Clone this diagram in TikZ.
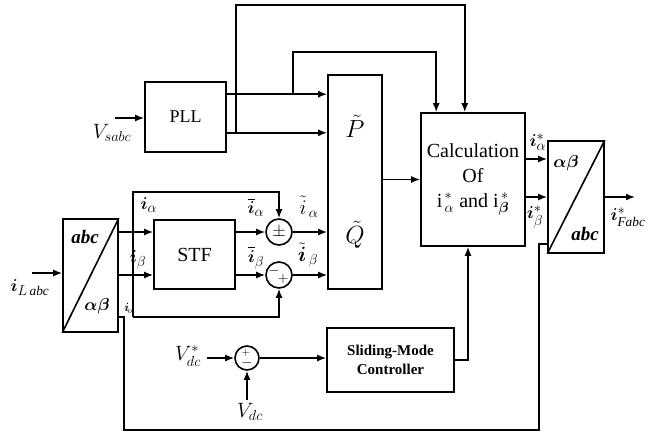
\documentclass[tikz,border=0pt]{standalone}
\usepackage{amsmath, amssymb}
\usepackage{bm}
\usepackage{fontspec}
\setmainfont{Liberation Serif}
\usepackage{tikz}
\usetikzlibrary{positioning, arrows.meta, calc}

\begin{document}
\begin{tikzpicture}[x=1pt, y=-1pt, line width=1.6pt,
    blockbox/.style={draw, line width=1.6pt, inner sep=0pt},
    sumnode/.style={draw, circle, minimum size=26pt, inner sep=0pt},
    sgn/.style={inner sep=0pt, font=\fontsize{14}{14}\selectfont},
    sig/.style={-{Latex[length=9pt,width=7pt]}},
    lbl/.style={inner sep=0pt, font=\fontsize{19}{19}\selectfont}]

    \useasboundingbox (0,0) rectangle (663,435);

    % Blocks
    \node[blockbox, minimum width=55pt, minimum height=113pt] (tra) at (90.5,275.5) {};
    \draw (tra.south west) -- (tra.north east);
    \node[blockbox, minimum width=81pt, minimum height=69pt, font=\fontsize{20}{20}\selectfont] (stf) at (194.5,254.5) {STF};
    \node[blockbox, minimum width=81pt, minimum height=70pt, font=\fontsize{18}{18}\selectfont] (pll) at (185.5,117) {PLL};
    \node[blockbox, minimum width=54pt, minimum height=214pt, align=center,
          font=\fontsize{25}{106}\selectfont] (pq) at (355,182) {$\tilde{P}$\\$\tilde{Q}$};
    \node[blockbox, minimum width=104pt, minimum height=133pt, align=center,
          font=\fontsize{20}{25}\selectfont] (calc) at (473,179.5)
          {Calculation\\Of\\i$^{\,*}_{\,\alpha}$ and i$^{\,*}_{\bm{\beta}}$};
    \node[blockbox, minimum width=56pt, minimum height=112pt] (trb) at (576,197) {};
    \draw (trb.south west) -- (trb.north east);
    \node[blockbox, minimum width=127pt, minimum height=64pt, align=center,
          font=\fontsize{15}{19}\selectfont\bfseries] (smc) at (390.5,360) {Sliding-Mode\\Controller};

    % Summing junctions
    \node[sumnode] (s1) at (279,232) {};
    \node[sgn, font=\fontsize{17}{17}\selectfont] (s1p) at (s1.center) {$\pm$};
    \node[sumnode] (s2) at (279,275) {};
    \node[sgn] (s2m) at ([shift={(-5,-4)}]s2.center) {$-$};
    \node[sgn] (s2p) at ([shift={(4,4)}]s2.center) {$+$};
    \node[sumnode, minimum size=24pt] (s3) at (247,358) {};
    \node[sgn, font=\fontsize{11}{11}\selectfont] (s3p) at ([shift={(-1,-5)}]s3.center) {$+$};
    \node[sgn] (s3m) at ([shift={(0,5)}]s3.center) {$-$};

    % Texts in blocks
    \node[lbl, font=\fontsize{19}{19}\selectfont\bfseries\itshape] (abca) at (85,237) {abc};
    \node[lbl] (aba) at (97,306) {$\bm{\alpha\beta}$};
    \node[lbl] (abb) at (566,163) {$\bm{\alpha\beta}$};
    \node[lbl, font=\fontsize{19}{19}\selectfont\bfseries\itshape] (abcb) at (585,234) {abc};

    % Coordinates
    \coordinate (iin) at (32,273);
    \coordinate (ttop) at (133,192);
    \coordinate (tbot) at (133,317);
    \coordinate (fb) at (124,430);
    \coordinate (fbr) at (539,430);
    \coordinate (vin) at (115,118);
    \coordinate (p1) at ([yshift=-13pt]pll.north east);
    \coordinate (p2) at ([yshift=20pt]pll.south east);
    \coordinate (b1) at ([xshift=66pt]p1);
    \coordinate (b2) at ([xshift=9pt]p2);
    \coordinate (c1) at ([xshift=16pt]calc.north west);
    \coordinate (c2) at ([xshift=-61pt]calc.north east);
    \coordinate (ya) at (0,159);
    \coordinate (yb) at (0,197);
    \coordinate (iout) at (635,197);
    \coordinate (vref) at (207,358);
    \coordinate (vdc) at (247,400);

    % Connectors
    \draw[sig] (iin) -- (iin -| tra.west);
    \draw[sig] (tra.east |- s1) -- (stf.west |- s1);
    \draw[sig] (tra.east |- s2) -- (stf.west |- s2);
    \draw[sig] (stf.east |- s1) -- (s1.west);
    \draw[sig] (stf.east |- s2) -- (s2.west);
    \draw[sig] (tbot) -- (ttop) -| (s1.north);
    \draw[sig] (tbot) -| (s2.south);
    \draw[sig] (s1.east) -- (s1 -| pq.west);
    \draw[sig] (s2.east) -- (s2 -| pq.west);
    \draw[sig] (vin) -- (vin -| pll.west);
    \draw[sig] (p1) -- (p1 -| pq.west);
    \draw[sig] (p2) -- (p2 -| pq.west);
    \draw[sig] (b1) -- (b1 |- 0,52) -| (c1);
    \draw[sig] (b2) -- (b2 |- 0,5) -| (c2);
    \draw[sig] (calc.west -| pq.east) -- (calc.west);
    \draw[sig] (calc.east |- ya) -- (trb.west |- ya);
    \draw[sig] (calc.east |- yb) -- (trb.west |- yb);
    \draw[sig] (trb.east |- iout) -- (iout);
    \draw[sig] (smc.east) -| ([xshift=-5pt]calc.south);
    \draw[sig] (vref) -- (s3.west);
    \draw[sig] (vdc) -- (s3.south);
    \draw[sig] (s3.east) -- (s3 -| smc.west);
    \draw (tra.east |- tbot) -| (fb) -- (fbr) |- ([yshift=10pt]trb.south west);

    % Signal labels
    \node[lbl] (lila) at (30,288) {$\bm{i}_{L\,\mathit{abc}}$};
    \node[lbl] (lia) at (149,205) {$\bm{i}_{\alpha}$};
    \node[lbl] (lib) at (138,260) {$\bm{i}_{\beta}$};
    \node[lbl, font=\fontsize{12}{12}\selectfont] (lio) at (128.5,308) {$\bm{i}_{\!o}$};
    \node[lbl] (lba) at (256,207) {$\overline{\bm{i}}_{\alpha}$};
    \node[lbl] (lbb) at (256,258) {$\overline{\bm{i}}_{\beta}$};
    \node[lbl, font=\fontsize{20}{20}\selectfont] (lta) at (309,207) {$\tilde{i}_{\,\alpha}$};
    \node[lbl, font=\fontsize{20}{20}\selectfont] (ltb) at (308,255) {$\tilde{\bm{i}}_{\,\beta}$};
    \node[lbl, font=\fontsize{21}{21}\selectfont] (lvs) at (112,133) {$V_{sabc}$};
    \node[lbl] (lsa) at (538,142) {$\bm{i}^{*}_{\alpha}$};
    \node[lbl] (lsb) at (535,217) {$\bm{i}^{*}_{\beta}$};
    \node[lbl] (lsf) at (628,217) {$\bm{i}^{*}_{\mathit{Fabc}}$};
    \node[lbl, font=\fontsize{21}{21}\selectfont] (lvr) at (188,356) {$V^{*}_{dc}$};
    \node[lbl, font=\fontsize{21}{21}\selectfont] (lvd) at (250,412) {$V_{dc}$};
\end{tikzpicture}
\end{document}
